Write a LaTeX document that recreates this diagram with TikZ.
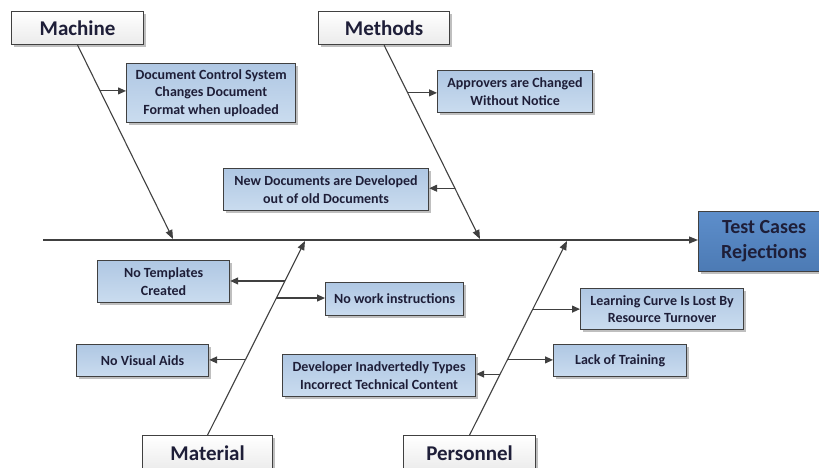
\documentclass[tikz,border=0pt]{standalone}
\usepackage{fontspec}
\setmainfont{Carlito}
\usetikzlibrary{arrows.meta,calc,shadows}
\definecolor{ln}{HTML}{404040}
\definecolor{txt}{HTML}{1E1E38}
\definecolor{cbTop}{HTML}{AFC7E3}
\definecolor{cbBot}{HTML}{CADCEF}
\definecolor{efTop}{HTML}{5D8ECB}
\definecolor{efBot}{HTML}{4C7AB4}
\begin{document}
\begin{tikzpicture}[x=1pt,y=-1pt,
  shd/.style={drop shadow={shadow xshift=2pt,shadow yshift=-2pt,opacity=0.25,fill=black}},
  cause/.style={draw=ln, line width=1.2pt, top color=cbTop, bottom color=cbBot, shd,
    font=\bfseries\fontsize{14}{17.5}\selectfont, text=txt, align=center,
    anchor=north west, inner sep=0pt},
  cat/.style={draw=ln, line width=1.2pt, top color=white, bottom color=black!8, shd,
    font=\bfseries\fontsize{21}{24}\selectfont, text=txt, align=center,
    anchor=north west, inner sep=0pt},
  effect/.style={draw=ln, line width=1.2pt, top color=efTop, bottom color=efBot, shd,
    font=\bfseries\fontsize{20}{25}\selectfont, text=txt, align=center,
    anchor=north west, inner sep=0pt},
  bone/.style={draw=ln, line width=1.1pt, -{Triangle[length=9pt,width=7pt]}},
  twig/.style={draw=ln, line width=1.1pt, -{Triangle[length=8pt,width=7pt]}}]
\useasboundingbox (0,0) rectangle (819,468);

% category boxes
\node[cat, minimum width=132pt, minimum height=33pt] (machine) at (11,11) {Machine};
\node[cat, minimum width=131pt, minimum height=33pt] (methods) at (318,11) {Methods};
\node[cat, minimum width=130pt, minimum height=36pt] (material) at (142,435) {Material};
\node[cat, minimum width=132pt, minimum height=36pt] (personnel) at (403,435) {Personnel};

% effect
\node[effect, minimum width=131pt, minimum height=60pt] (effect) at (698,211) {Test Cases\\Rejections};

% causes
\node[cause, minimum width=169pt, minimum height=59pt] (doc) at (126,63) {Document Control System\\Changes Document\\Format when uploaded};
\node[cause, minimum width=155pt, minimum height=42pt] (appr) at (437,70) {Approvers are Changed\\Without Notice};
\node[cause, minimum width=205pt, minimum height=42pt] (newdoc) at (223,168) {New Documents are Developed\\out of old Documents};
\node[cause, minimum width=132pt, minimum height=42pt] (templ) at (97,260) {No Templates\\Created};
\node[cause, minimum width=138pt, minimum height=33pt] (work) at (325,282) {No work instructions};
\node[cause, minimum width=132pt, minimum height=32pt] (visual) at (76,344) {No Visual Aids};
\node[cause, minimum width=193pt, minimum height=42pt] (dev) at (282,354) {Developer Inadvertedly Types\\Incorrect Technical Content};
\node[cause, minimum width=163pt, minimum height=41pt] (learn) at (580,288) {Learning Curve Is Lost By\\Resource Turnover};
\node[cause, minimum width=133pt, minimum height=32pt] (train) at (553,344) {Lack of Training};

% spine
\coordinate (tail) at (43,240);
\coordinate (mtip) at (173,239);
\coordinate (ttip) at (480,239);
\coordinate (atip) at (305,241);
\coordinate (ptip) at (567,241);
\draw[bone] (tail) -- (effect.west |- tail);

% bones
\draw[bone] (machine.south) -- (mtip);
\draw[bone] (methods.south) -- (ttip);
\draw[bone] (material.north) -- (atip);
\draw[bone] (personnel.north) -- (ptip);

% twigs
\coordinate (b1) at ($(machine.south)!0.236!(mtip)$);
\draw[twig] (b1) -- (b1 -| doc.west);
\coordinate (b2) at ($(methods.south)!0.246!(ttip)$);
\draw[twig] (b2) -- (b2 -| appr.west);
\coordinate (b3) at ($(methods.south)!0.738!(ttip)$);
\draw[twig] (b3) -- (b3 -| newdoc.east);
\coordinate (b4) at ($(material.north)!0.794!(atip)$);
\draw[twig] (b4) -- (b4 -| templ.east);
\coordinate (b5) at ($(material.north)!0.706!(atip)$);
\draw[twig] (b5) -- (b5 -| work.west);
\coordinate (b6) at ($(material.north)!0.387!(atip)$);
\draw[twig] (b6) -- (b6 -| visual.east);
\coordinate (b7) at ($(personnel.north)!0.649!(ptip)$);
\draw[twig] (b7) -- (b7 -| learn.west);
\coordinate (b8) at ($(personnel.north)!0.387!(ptip)$);
\draw[twig] (b8) -- (b8 -| train.west);
\coordinate (b9) at ($(personnel.north)!0.314!(ptip)$);
\draw[twig] (b9) -- (b9 -| dev.east);
\end{tikzpicture}
\end{document}
